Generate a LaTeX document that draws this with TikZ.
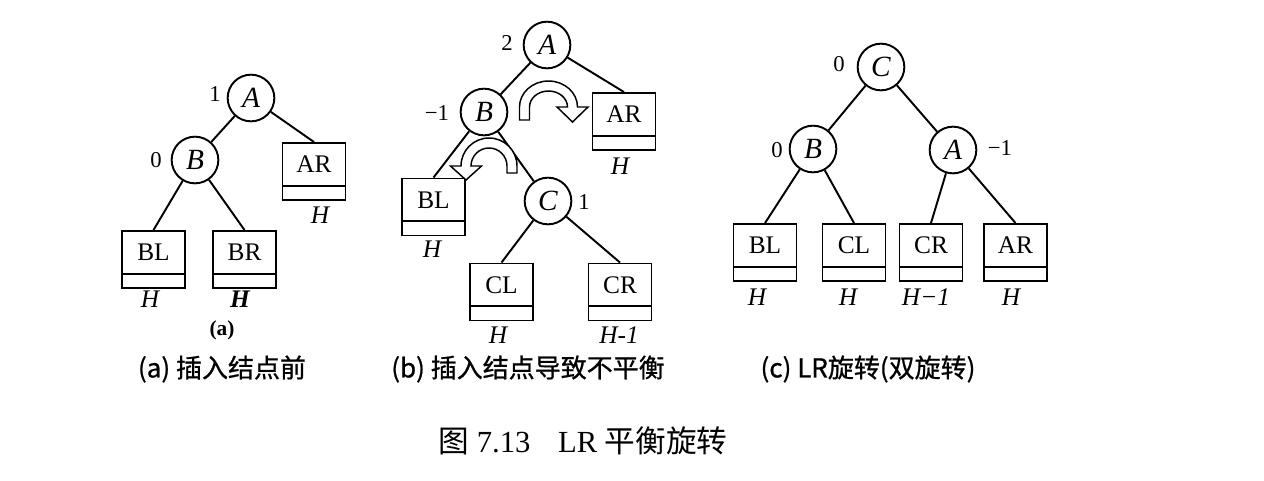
\documentclass[tikz,border=0pt]{standalone}
\usepackage{fontspec}
\setmainfont{Liberation Serif}
\newfontfamily\cjk{Noto Sans CJK SC}
\newfontfamily\cjkb{Noto Sans CJK SC}[FakeBold=0.8]
\begin{document}
\begin{tikzpicture}[x=0.75pt,y=-0.75pt,line width=1.45pt,
  circ/.style={circle,draw,minimum size=35pt,inner sep=0pt,font=\fontsize{22}{22}\selectfont\itshape},
  tbox/.style={draw,minimum width=47.25pt,minimum height=42.75pt,inner sep=0pt,
    path picture={\draw ([yshift=10.75pt]path picture bounding box.south west) -- ([yshift=10.75pt]path picture bounding box.south east);},
    label={[font=\fontsize{19}{19}\selectfont,yshift=5.25pt,inner sep=0pt]center:#1}},
  num/.style={inner sep=0pt,font=\fontsize{17}{17}\selectfont},
  hl/.style={inner sep=0pt,font=\fontsize{19}{19}\selectfont\itshape},
  sub/.style={inner sep=0pt,font=\cjkb\fontsize{19.5}{19.5}\selectfont},
  harrow/.style={draw,fill=white,line width=1.1pt,line join=miter}]
\fill[white] (0,0) rectangle (1264,480);
\useasboundingbox (0,0) rectangle (1264,480);

% ---------- (a) ----------
\node[circ] (aA) at (251,98) {A};
\node[circ] (aB) at (195,160) {B};
\node[num] (aAn) at (215,94) {1};
\node[num] (aBn) at (156,160) {0};
\node[tbox={AR}] (aAR) at (314,171.5) {};
\node[tbox={BL}] (aBL) at (153.5,259.5) {};
\node[tbox={BR}] (aBR) at (244.5,259.5) {};
\node[hl] (aARh) at (320,215) {H};
\node[hl] (aBLh) at (150,299) {H};
\node[hl] (aBRh) at (240,299) {\bfseries H};
\node[inner sep=0pt,font=\fontsize{16}{16}\selectfont\bfseries] (alab) at (222,330) {(a)};
\node[sub] (acap) at (222,369) {(a) 插入结点前};
\draw (aA) -- (aB);
\draw (aA) -- (aAR.north);
\draw (aB) -- (aBL.north);
\draw (aB) -- (aBR.north);

% ---------- (b) ----------
\node[circ] (bA) at (547,45) {A};
\node[circ] (bB) at (484,112) {B};
\node[circ] (bC) at (548,201) {C};
\node[num] (bAn) at (507,43) {2};
\node[num] (bBn) at (437,113) {−1};
\node[num] (bCn) at (584,202) {1};
\node[tbox={AR}] (bAR) at (624,121.5) {};
\node[tbox={BL}] (bBL) at (433.5,207) {};
\node[tbox={CL}] (bCL) at (501.5,292) {};
\node[tbox={CR}] (bCR) at (620,292) {};
\node[hl] (bARh) at (620,166) {H};
\node[hl] (bBLh) at (432,249) {H};
\node[hl] (bCLh) at (498,335) {H};
\node[hl] (bCRh) at (619,335) {H-1};
\node[sub] (bcap) at (528,369) {(b) 插入结点导致不平衡};
\draw (bA) -- (bB);
\draw (bA) -- (bAR.north);
\draw (bB) -- (bBL.north);
\draw (bB) -- (bC);
\draw (bC) -- (bCL.north);
\draw (bC) -- (bCR.north);
\begin{scope}[shift={(548.5,107)},yscale=-1]
\draw[harrow] (-29,-13) -- (-29,0) arc[start angle=180,end angle=0,x radius=29,y radius=26]
  -- (39.5,0) -- (24,-15) -- (8.5,0) -- (19,0)
  arc[start angle=0,end angle=180,x radius=19,y radius=16] -- (-19,-13) -- cycle;
\end{scope}
\begin{scope}[shift={(489,166)},yscale=-1]
\draw[harrow] (28,-7) -- (28,0) arc[start angle=0,end angle=180,radius=28]
  -- (-38.5,0) -- (-23,-14) -- (-7.5,0) -- (-18,0)
  arc[start angle=180,end angle=0,radius=18] -- (18,-7) -- cycle;
\end{scope}

% ---------- (c) ----------
\node[circ] (cC) at (881,67) {C};
\node[circ] (cB) at (813,149) {B};
\node[circ] (cA) at (953,150) {A};
\node[num] (cCn) at (839,64) {0};
\node[num] (cBn) at (777,150) {0};
\node[num] (cAn) at (1000,148) {−1};
\node[tbox={BL}] (cBL) at (765,252.5) {};
\node[tbox={CL}] (cCL) at (854,252.5) {};
\node[tbox={CR}] (cCR) at (931,252.5) {};
\node[tbox={AR}] (cAR) at (1015.5,252.5) {};
\node[hl] (cBLh) at (757,297) {H};
\node[hl] (cCLh) at (848,297) {H};
\node[hl] (cCRh) at (926,297) {H−1};
\node[hl] (cARh) at (1011,297) {H};
\node[sub] (ccap) at (868,369) {(c) LR旋转(双旋转)};
\draw (cC) -- (cB);
\draw (cC) -- (cA);
\draw (cB) -- (cBL.north);
\draw (cB) -- (cCL.north);
\draw (cA) -- (cCR.north);
\draw (cA) -- (cAR.north);

% ---------- figure caption ----------
\node[inner sep=0pt,font=\fontsize{23}{23}\selectfont] (figcap) at (583,441) {{\cjk 图}~7.13\hspace{0.9em}LR~{\cjk 平衡旋转}};
\end{tikzpicture}
\end{document}
